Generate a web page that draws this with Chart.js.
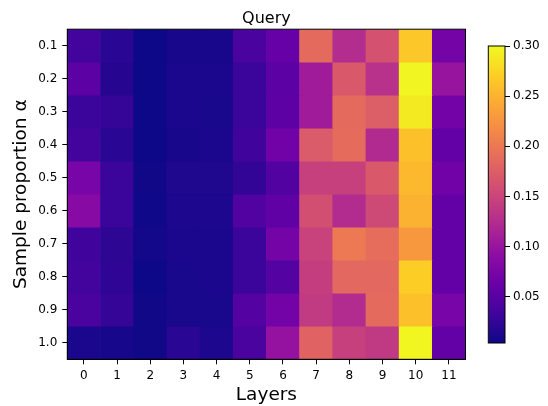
<!DOCTYPE html>
<html>
<head>
<meta charset="utf-8">
<script src="https://cdn.jsdelivr.net/npm/chart.js@4/dist/chart.umd.min.js"></script>
<style>
  html, body { margin: 0; padding: 0; background: #fff; }
  #wrap { position: relative; width: 548px; height: 406px; }
  #main { position: absolute; left: 0; top: 0; }
  #cbar { position: absolute; left: 480px; top: 0; }
</style>
</head>
<body>
<div id="wrap">
  <canvas id="main" width="548" height="406"></canvas>
  <canvas id="cbar" width="68" height="406"></canvas>
</div>
<script>
const layers = ['0','1','2','3','4','5','6','7','8','9','10','11'];
const alphas = ['0.1','0.2','0.3','0.4','0.5','0.6','0.7','0.8','0.9','1.0'];
const row01 = [0.035, 0.020, 0.004, 0.010, 0.010, 0.040, 0.060, 0.187, 0.125, 0.163, 0.265, 0.072];
const row02 = [0.053, 0.018, 0.004, 0.012, 0.012, 0.030, 0.053, 0.107, 0.170, 0.130, 0.297, 0.100];
const row03 = [0.030, 0.027, 0.004, 0.012, 0.011, 0.030, 0.054, 0.107, 0.187, 0.175, 0.290, 0.070];
const row04 = [0.035, 0.020, 0.004, 0.010, 0.012, 0.033, 0.068, 0.172, 0.188, 0.122, 0.260, 0.058];
const row05 = [0.074, 0.030, 0.006, 0.014, 0.014, 0.025, 0.045, 0.145, 0.145, 0.170, 0.255, 0.068];
const row06 = [0.086, 0.030, 0.005, 0.013, 0.013, 0.045, 0.055, 0.160, 0.124, 0.155, 0.250, 0.058];
const row07 = [0.033, 0.022, 0.007, 0.012, 0.012, 0.030, 0.072, 0.148, 0.200, 0.190, 0.229, 0.058];
const row08 = [0.035, 0.023, 0.004, 0.011, 0.012, 0.030, 0.048, 0.143, 0.185, 0.185, 0.270, 0.058];
const row09 = [0.040, 0.027, 0.006, 0.011, 0.011, 0.048, 0.070, 0.140, 0.124, 0.187, 0.260, 0.074];
const row10 = [0.012, 0.009, 0.006, 0.020, 0.013, 0.040, 0.098, 0.180, 0.145, 0.138, 0.298, 0.058];
const rows = [row01, row02, row03, row04, row05, row06, row07, row08, row09, row10];
const colorbarTicks = [0.05, 0.10, 0.15, 0.20, 0.25, 0.30];
const vmin = 0.004, vmax = 0.30;

const plasmaStops = ['#0d0887','#41049d','#6a00a8','#8f0da4','#b12a90','#cc4778','#e16462','#f2844b','#fca636','#fcce25','#f0f921'];
function hexToRgb(h){ return [parseInt(h.slice(1,3),16), parseInt(h.slice(3,5),16), parseInt(h.slice(5,7),16)]; }
const plasmaRgb = plasmaStops.map(hexToRgb);
function plasma(v){
  let t = (v - vmin) / (vmax - vmin);
  t = Math.max(0, Math.min(1, t));
  const n = plasmaRgb.length - 1;
  const i = Math.min(n - 1, Math.floor(t * n));
  const f = t * n - i;
  const a = plasmaRgb[i], b = plasmaRgb[i + 1];
  const c = a.map((x, k) => Math.round(x + (b[k] - x) * f));
  return `rgb(${c[0]},${c[1]},${c[2]})`;
}

const FONT = 'DejaVu Sans';
Chart.defaults.font.family = FONT;
Chart.defaults.color = '#000';

const frame = {
  id: 'frame',
  afterDatasetsDraw(chart) {
    const a = chart.chartArea, ctx = chart.ctx;
    ctx.save();
    ctx.strokeStyle = '#000';
    ctx.lineWidth = 1;
    ctx.strokeRect(a.left, a.top, a.right - a.left, a.bottom - a.top);
    ctx.restore();
  }
};

const datasets = rows.map((vals, i) => ({
  label: alphas[i],
  data: vals.map(() => [i - 0.5, i + 0.5]),
  backgroundColor: vals.map(plasma),
  borderWidth: 0,
  grouped: false,
  barPercentage: 1,
  categoryPercentage: 1
}));

new Chart(document.getElementById('main'), {
  type: 'bar',
  data: { labels: layers, datasets },
  options: {
    responsive: false,
    animation: false,
    events: [],
    layout: { padding: { left: 0, right: 15.2, top: 0, bottom: 0 } },
    plugins: {
      legend: { display: false },
      tooltip: { enabled: false },
      title: {
        display: true, text: 'Query', color: '#000',
        font: { family: FONT, size: 16, weight: 'normal' },
        padding: { top: 9, bottom: 1 }
      }
    },
    scales: {
      x: {
        type: 'category',
        offset: true,
        grid: { display: true, drawOnChartArea: false, offset: false, color: '#000', tickLength: 5, tickWidth: 1 },
        border: { display: true, color: '#000', width: 1 },
        ticks: { color: '#000', font: { family: FONT, size: 12 }, padding: 4, maxRotation: 0 },
        title: { display: true, text: 'Layers', color: '#000', font: { family: FONT, size: 18.5 }, padding: { top: 0, bottom: 0 } },
        afterFit(s) { s.height = 46.7; }
      },
      y: {
        type: 'linear',
        min: -0.5, max: 9.5,
        reverse: true,
        afterBuildTicks(s) { s.ticks = alphas.map((_, i) => ({ value: i })); },
        grid: { display: true, drawOnChartArea: false, color: '#000', tickLength: 5, tickWidth: 1 },
        border: { display: true, color: '#000', width: 1 },
        ticks: { color: '#000', font: { family: FONT, size: 12 }, padding: 5, callback: (v) => alphas[v] ?? '' },
        title: { display: true, text: 'Sample proportion α', color: '#000', font: { family: FONT, size: 18.5 }, padding: { top: 10, bottom: 0 } },
        afterFit(s) { s.width = 67.3; }
      },
      yPad: {
        type: 'linear',
        position: 'right',
        display: true,
        grid: { display: false },
        border: { display: false },
        ticks: { display: false },
        afterFit(s) { s.width = 67.3; }
      }
    }
  },
  plugins: [frame]
});

new Chart(document.getElementById('cbar'), {
  type: 'bar',
  data: {
    labels: ['c'],
    datasets: [{
      data: [[vmin, vmax]],
      backgroundColor(ctx) {
        const ch = ctx.chart, a = ch.chartArea;
        if (!a) return '#888';
        const g = ch.ctx.createLinearGradient(0, a.bottom, 0, a.top);
        plasmaStops.forEach((c, k) => g.addColorStop(k / (plasmaStops.length - 1), c));
        return g;
      },
      borderWidth: 0,
      barPercentage: 1,
      categoryPercentage: 1,
      inflateAmount: 0
    }]
  },
  options: {
    responsive: false,
    animation: false,
    events: [],
    layout: { padding: { left: 8.3, right: 0, top: 46, bottom: 63 } },
    plugins: { legend: { display: false }, tooltip: { enabled: false }, title: { display: false } },
    scales: {
      x: { display: false, offset: true },
      y: {
        type: 'linear',
        position: 'right',
        min: vmin, max: vmax,
        afterBuildTicks(s) { s.ticks = colorbarTicks.map(v => ({ value: v })); },
        grid: { display: true, drawOnChartArea: false, color: '#000', tickLength: 5, tickWidth: 1 },
        border: { display: false },
        ticks: { color: '#000', font: { family: FONT, size: 12 }, padding: 3, callback: (v) => v.toFixed(2) },
        afterFit(s) { s.width = 43; }
      }
    }
  },
  plugins: [frame]
});
</script>
</body>
</html>
